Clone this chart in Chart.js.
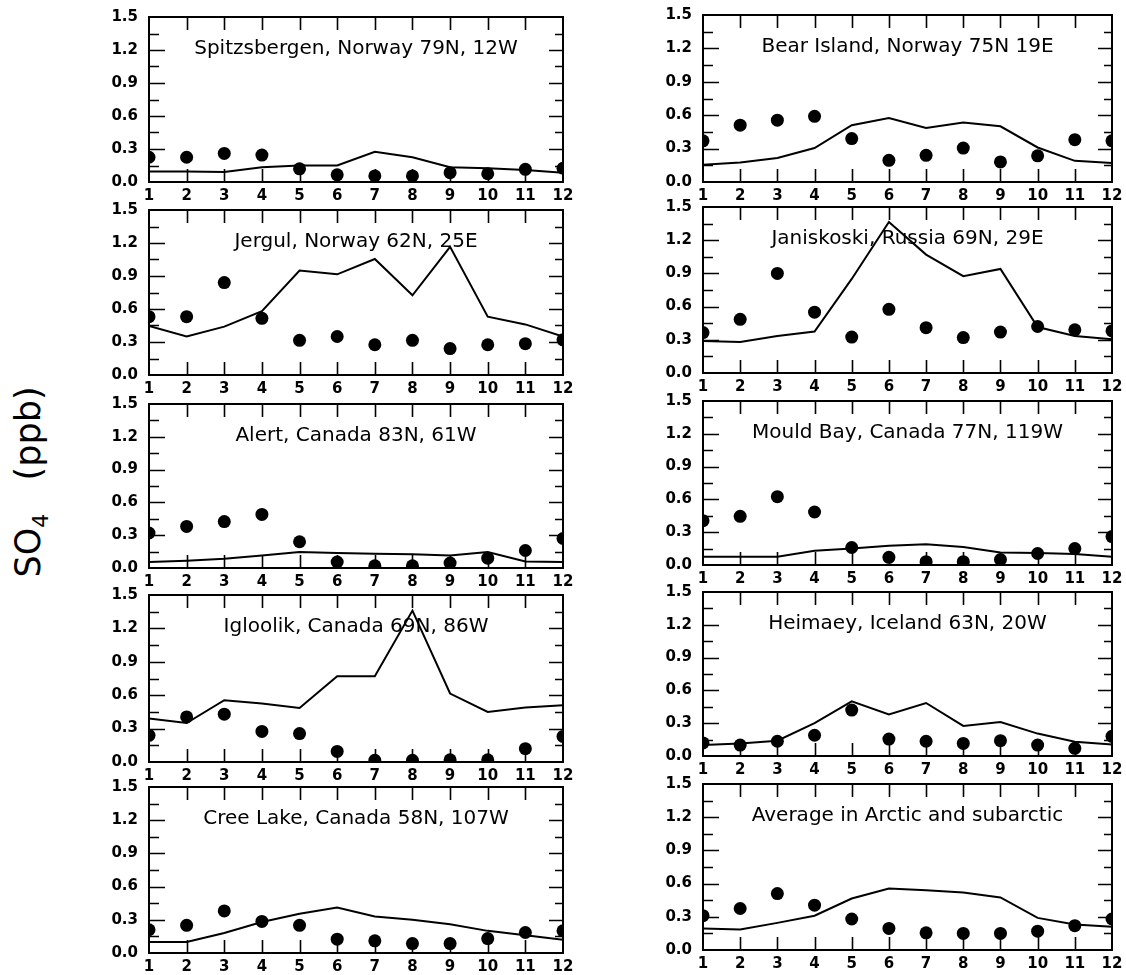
<!DOCTYPE html>
<html lang="en">
<head>
    <meta charset="UTF-8">
    <title>SO4 seasonal cycle</title>
    <script src="https://cdn.jsdelivr.net/npm/chart.js"></script>
    <style>
        body {
            margin: 0;
            background: #fff;
            font-family: "DejaVu Sans", sans-serif;
        }

        #page {
            position: relative;
            width: 1126px;
            height: 975px;
        }

        canvas {
            position: absolute;
        }

        .panel-title {
            position: absolute;
            text-align: center;
            font-size: 20px;
            line-height: 24px;
            color: #000;
            white-space: nowrap;
        }

        #yTitle {
            position: absolute;
            left: 30px;
            top: 482px;
            transform: translate(-50%, -50%) rotate(-90deg);
            font-size: 35px;
            white-space: nowrap;
            color: #000;
        }

        #yTitle sub {
            font-size: 22px;
        }
    </style>
</head>
<body>
<div id="page">
    <div id="yTitle">SO<sub>4</sub>&nbsp;&nbsp;&nbsp;(ppb)</div>
</div>

<script>
    // 月 (x軸)
    var months = ['1', '2', '3', '4', '5', '6', '7', '8', '9', '10', '11', '12'];
    var yTickValues = [0, 0.3, 0.6, 0.9, 1.2, 1.5];

    var stationNames = [
        'Spitzsbergen, Norway 79N, 12W',
        'Bear Island, Norway 75N 19E',
        'Jergul, Norway 62N, 25E',
        'Janiskoski, Russia 69N, 29E',
        'Alert, Canada 83N, 61W',
        'Mould Bay, Canada 77N, 119W',
        'Igloolik, Canada 69N, 86W',
        'Heimaey, Iceland 63N, 20W',
        'Cree Lake, Canada 58N, 107W',
        'Average in Arctic and subarctic'
    ];

    // 観測値 (dots) と モデル値 (line)
    var spitzbergenObs   = [0.225, 0.225, 0.26, 0.245, 0.12, 0.065, 0.055, 0.055, 0.085, 0.075, 0.115, 0.125];
    var spitzbergenModel = [0.095, 0.095, 0.09, 0.135, 0.15, 0.15, 0.275, 0.225, 0.135, 0.125, 0.11, 0.085];

    var bearIslandObs   = [0.37, 0.51, 0.555, 0.59, 0.39, 0.195, 0.24, 0.305, 0.18, 0.235, 0.38, 0.37];
    var bearIslandModel = [0.155, 0.175, 0.215, 0.305, 0.51, 0.575, 0.485, 0.535, 0.5, 0.31, 0.19, 0.17];

    var jergulObs   = [0.53, 0.53, 0.84, 0.515, 0.315, 0.35, 0.275, 0.315, 0.24, 0.275, 0.285, 0.32];
    var jergulModel = [0.445, 0.35, 0.44, 0.58, 0.95, 0.915, 1.055, 0.725, 1.165, 0.53, 0.46, 0.35];

    var janiskoskiObs   = [0.365, 0.485, 0.9, 0.55, 0.325, 0.575, 0.41, 0.32, 0.37, 0.42, 0.39, 0.38];
    var janiskoskiModel = [0.29, 0.28, 0.335, 0.375, 0.85, 1.365, 1.07, 0.875, 0.94, 0.415, 0.335, 0.305];

    var alertObs   = [0.32, 0.38, 0.425, 0.49, 0.24, 0.055, 0.02, 0.02, 0.045, 0.09, 0.16, 0.27];
    var alertModel = [0.055, 0.067, 0.085, 0.115, 0.147, 0.137, 0.13, 0.125, 0.115, 0.147, 0.06, 0.055];

    var mouldBayObs   = [0.405, 0.445, 0.625, 0.485, 0.16, 0.07, 0.03, 0.03, 0.05, 0.105, 0.15, 0.26];
    var mouldBayModel = [0.076, 0.076, 0.076, 0.13, 0.15, 0.175, 0.19, 0.165, 0.115, 0.11, 0.1, 0.076];

    var iglooliksObs  = [0.24, 0.405, 0.43, 0.275, 0.255, 0.095, 0.015, 0.015, 0.02, 0.02, 0.12, 0.23];
    var igloolikModel = [0.39, 0.35, 0.555, 0.525, 0.485, 0.77, 0.77, 1.36, 0.615, 0.45, 0.49, 0.51];

    var heimaeyObs   = [0.12, 0.1, 0.135, 0.19, 0.42, 0.155, 0.135, 0.115, 0.14, 0.1, 0.07, 0.18];
    var heimaeyModel = [0.1, 0.115, 0.14, 0.3, 0.5, 0.38, 0.485, 0.275, 0.31, 0.205, 0.13, 0.105];

    var creeLakeObs   = [0.21, 0.25, 0.38, 0.285, 0.25, 0.125, 0.11, 0.085, 0.085, 0.13, 0.185, 0.2];
    var creeLakeModel = [0.1, 0.1, 0.18, 0.28, 0.355, 0.41, 0.33, 0.3, 0.26, 0.2, 0.16, 0.12];

    var averageObs   = [0.31, 0.375, 0.51, 0.405, 0.28, 0.195, 0.155, 0.15, 0.15, 0.17, 0.22, 0.28];
    var averageModel = [0.195, 0.185, 0.245, 0.31, 0.465, 0.555, 0.54, 0.52, 0.475, 0.29, 0.23, 0.21];

    var obsSeries = [spitzbergenObs, bearIslandObs, jergulObs, janiskoskiObs, alertObs,
                     mouldBayObs, iglooliksObs, heimaeyObs, creeLakeObs, averageObs];
    var modelSeries = [spitzbergenModel, bearIslandModel, jergulModel, janiskoskiModel, alertModel,
                       mouldBayModel, igloolikModel, heimaeyModel, creeLakeModel, averageModel];

    // プロット領域の位置 (px)
    var colBounds = [{ left: 149, right: 563 }, { left: 703, right: 1112 }];
    var rowBounds = [
        [[17, 182], [210, 375], [404, 568], [595, 762], [787, 953]],
        [[15, 182], [207, 373], [401, 565], [592, 756], [784, 950]]
    ];

    var Y_AXIS_W = 45;
    var X_AXIS_H = 22;
    var PAD_TOP = 10;
    var PAD_RIGHT = 14;
    var tickFont = { family: 'DejaVu Sans', size: 15, weight: 'bold' };

    // 枠と内向きの目盛り
    var framePlugin = {
        id: 'frame',
        afterDatasetsDraw: function (chart) {
            var ctx = chart.ctx;
            var a = chart.chartArea;
            var xs = chart.scales.x;
            var ys = chart.scales.y;
            ctx.save();
            ctx.strokeStyle = '#000';
            ctx.lineWidth = 2;
            ctx.strokeRect(a.left, a.top, a.right - a.left, a.bottom - a.top);
            ctx.beginPath();
            for (var i = 1; i < months.length - 1; i++) {
                var px = Math.round(xs.getPixelForValue(i)) + 0.5;
                ctx.moveTo(px, a.top);
                ctx.lineTo(px, a.top + 13);
                ctx.moveTo(px, a.bottom);
                ctx.lineTo(px, a.bottom - 13);
            }
            for (var k = 1; k < 10; k++) {
                var v = k * 0.15;
                var major = (k % 2 === 0);
                var py = Math.round(ys.getPixelForValue(v)) + 0.5;
                ctx.moveTo(a.left, py);
                ctx.lineTo(a.left + (major ? 16 : 10), py);
                ctx.moveTo(a.right, py);
                ctx.lineTo(a.right - (major ? 14 : 8), py);
            }
            ctx.lineWidth = 1.6;
            ctx.stroke();
            ctx.restore();
        }
    };

    function makePanel(i) {
        var col = i % 2;
        var row = Math.floor(i / 2);
        var cb = colBounds[col];
        var rb = rowBounds[col][row];
        var plotW = cb.right - cb.left;
        var plotH = rb[1] - rb[0];

        var canvas = document.createElement('canvas');
        canvas.width = Y_AXIS_W + plotW + PAD_RIGHT;
        canvas.height = PAD_TOP + plotH + X_AXIS_H;
        canvas.style.left = (cb.left - Y_AXIS_W) + 'px';
        canvas.style.top = (rb[0] - PAD_TOP) + 'px';
        document.getElementById('page').appendChild(canvas);

        var title = document.createElement('div');
        title.className = 'panel-title';
        title.style.left = cb.left + 'px';
        title.style.width = plotW + 'px';
        title.style.top = (rb[0] + 18) + 'px';
        title.textContent = stationNames[i];
        document.getElementById('page').appendChild(title);

        new Chart(canvas.getContext('2d'), {
            type: 'line',
            data: {
                labels: months,
                datasets: [{
                    data: modelSeries[i],
                    borderColor: '#000',
                    borderWidth: 2,
                    pointRadius: 0,
                    tension: 0,
                    fill: false,
                    clip: 0
                }, {
                    data: obsSeries[i],
                    showLine: false,
                    pointRadius: 6.5,
                    pointHoverRadius: 6.5,
                    pointBorderWidth: 0,
                    pointBackgroundColor: '#000',
                    clip: 0
                }]
            },
            options: {
                responsive: false,
                animation: false,
                devicePixelRatio: 1,
                layout: { padding: { top: PAD_TOP, right: PAD_RIGHT, left: 0, bottom: 0 } },
                plugins: { legend: { display: false }, tooltip: { enabled: false } },
                events: [],
                scales: {
                    x: {
                        offset: false,
                        grid: { display: false, drawTicks: false },
                        border: { display: false },
                        ticks: { color: '#000', font: tickFont, padding: 5, maxRotation: 0, autoSkip: false },
                        afterFit: function (s) {
                            s.height = X_AXIS_H;
                            s.paddingLeft = 0;
                            s.paddingRight = 0;
                        }
                    },
                    y: {
                        min: 0,
                        max: 1.5,
                        grid: { display: false, drawTicks: false },
                        border: { display: false },
                        afterBuildTicks: function (s) {
                            s.ticks = yTickValues.map(function (v) { return { value: v }; });
                        },
                        ticks: {
                            color: '#000',
                            font: tickFont,
                            padding: 11,
                            callback: function (v) { return Number(v).toFixed(1); }
                        },
                        afterFit: function (s) {
                            s.width = Y_AXIS_W;
                            s.paddingTop = 0;
                            s.paddingBottom = 0;
                        }
                    }
                }
            },
            plugins: [framePlugin]
        });
    }

    for (var i = 0; i < stationNames.length; i++) {
        makePanel(i);
    }
</script>
</body>
</html>
